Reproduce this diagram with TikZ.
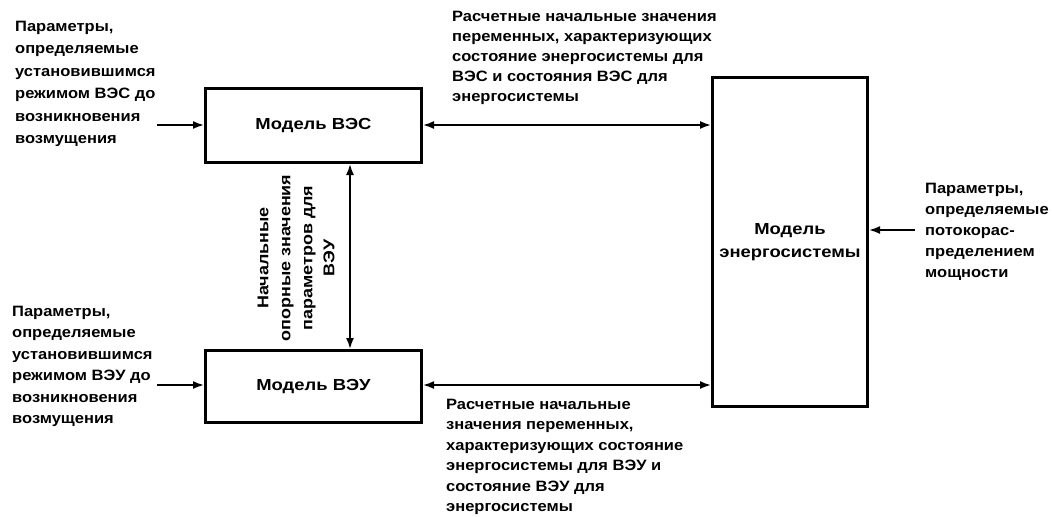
\documentclass[tikz,border=0pt]{standalone}
\usepackage{fontspec}
\setmainfont{Liberation Sans}
\newfontfamily\widefont[FakeStretch=1.15]{Liberation Sans}
\newfontfamily\txtfont[FakeStretch=1.10]{Liberation Sans}
\usetikzlibrary{arrows.meta}
\tikzset{
  blk/.style={draw, line width=3pt, inner sep=0pt},
  lbl/.style={inner sep=0pt, align=left},
  ctr/.style={font=\widefont\bfseries\fontsize{16}{23}\selectfont, inner sep=0pt, align=center},
  conn/.style={line width=1.8pt},
  tip/.tip={Latex[length=11pt,width=8pt]},
}
\newcommand{\txtf}[1]{\txtfont\bfseries\fontsize{15}{#1}\selectfont}
\begin{document}
\begin{tikzpicture}[x=1pt,y=-1pt]
\useasboundingbox (0,0) rectangle (1053,517);
% boxes
\node[blk, minimum width=216pt, minimum height=74pt] (ves) at (313.5,125.5) {};
\node[blk, minimum width=216pt, minimum height=72pt] (veu) at (313.5,386.5) {};
\node[blk, minimum width=155pt, minimum height=329pt] (es) at (790,242) {};
\node[ctr] at (ves.center) {Модель ВЭС};
\node[ctr] at (veu.center) {Модель ВЭУ};
\node[ctr] at (es.center) {Модель\\энергосистемы};
% coordinates for free ends
\coordinate (inA) at (157,125);
\coordinate (inB) at (157,385);
\coordinate (inC) at (915,230);
% connectors
\draw[conn, -{tip}] (inA) -- (ves.west |- inA);
\draw[conn, -{tip}] (inB) -- (veu.west |- inB);
\draw[conn, -{tip}] (inC) -- (es.east |- inC);
\draw[conn, {tip}-{tip}] (ves.east |- 0,125) -- (es.west |- 0,125);
\draw[conn, {tip}-{tip}] (veu.east |- 0,385) -- (es.west |- 0,385);
\draw[conn, {tip}-{tip}] (ves.south -| 350,0) -- (veu.north -| 350,0);
% texts
\node[lbl, anchor=north west, font=\txtf{22.4}] (t1) at (15,21) {Параметры,\\определяемые\\установившимся\\режимом ВЭС до\\возникновения\\возмущения};
\node[lbl, anchor=north west, font=\txtf{21.4}] (t2) at (12,306) {Параметры,\\определяемые\\установившимся\\режимом ВЭУ до\\возникновения\\возмущения};
\node[lbl, anchor=north west, font=\txtf{20}] (t3) at (452,11) {Расчетные начальные значения\\переменных, характеризующих\\состояние энергосистемы для\\ВЭС и состояния ВЭС для\\энергосистемы};
\node[lbl, anchor=north west, font=\txtf{20.4}] (t4) at (446,399) {Расчетные начальные\\значения переменных,\\характеризующих состояние\\энергосистемы для ВЭУ и\\состояние ВЭУ для\\энергосистемы};
\node[lbl, anchor=north west, font=\txtf{21}] (t5) at (925,183) {Параметры,\\определяемые\\потокорас-\\пределением\\мощности};
\node[ctr, rotate=90, font=\widefont\bfseries\fontsize{15.6}{22}\selectfont] (t6) at (296,258) {Начальные\\опорные значения\\параметров для\\ВЭУ};
\end{tikzpicture}
\end{document}
